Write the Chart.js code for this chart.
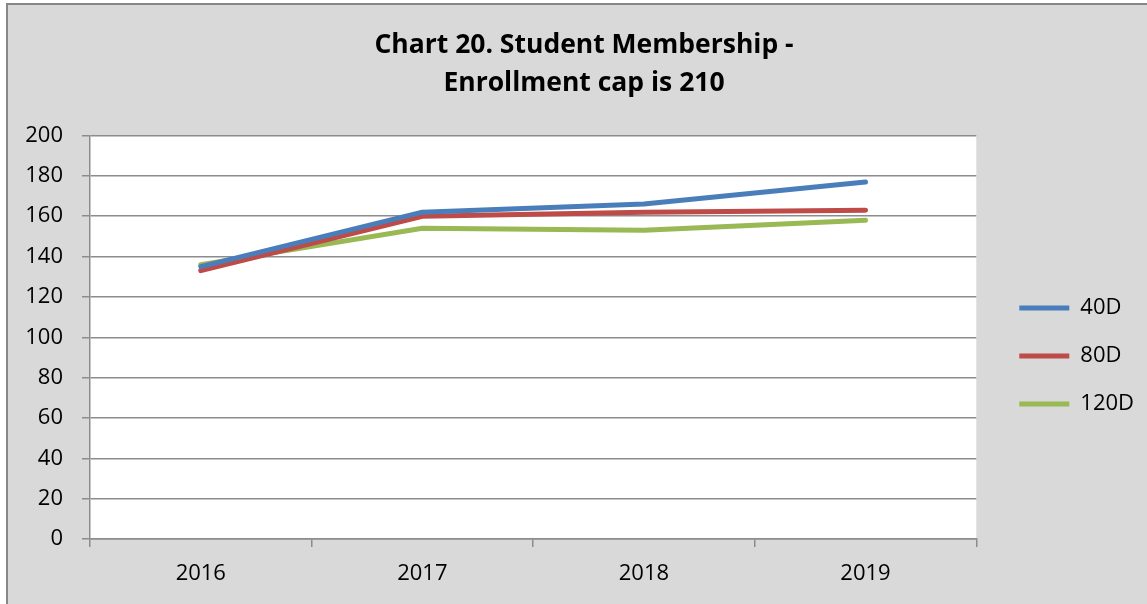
<!DOCTYPE html>
<html>
<head>
<meta charset="utf-8">
<script src="https://cdn.jsdelivr.net/npm/chart.js@4/dist/chart.umd.min.js"></script>
<style>
  body { margin: 0; background: #fff; }
  #wrap { position: relative; width: 1147px; height: 604px; }
</style>
</head>
<body>
<div id="wrap"><canvas id="chart"></canvas></div>
<script>
// Data
const years = ["2016", "2017", "2018", "2019"];
const d40 = [135, 162, 166, 177];
const d80 = [133, 160, 162, 163];
const d120 = [136, 154, 153, 158];
const yTicks = { min: 0, max: 200, step: 20 };

const gridColor = "#8c8c8c";
Chart.defaults.font.family = "'Open Sans', sans-serif";
Chart.defaults.color = "#000";

// gray chart box with border, white plot area
const background = {
  id: "background",
  beforeDraw(chart) {
    const { ctx, chartArea: a, width, height } = chart;
    ctx.save();
    ctx.fillStyle = "#fff";
    ctx.fillRect(0, 0, width, height);
    ctx.fillStyle = "#d9d9d9";
    ctx.fillRect(7, 4, width, height);
    ctx.strokeStyle = "#878787";
    ctx.lineWidth = 2;
    ctx.beginPath();
    ctx.moveTo(7, height);
    ctx.lineTo(7, 4);
    ctx.lineTo(width, 4);
    ctx.stroke();
    ctx.fillStyle = "#fff";
    ctx.fillRect(a.left, a.top, a.right - a.left, a.bottom - a.top);
    ctx.restore();
  }
};

function makeSet(label, data, color) {
  return {
    label: label,
    data: data,
    borderColor: color,
    backgroundColor: color,
    borderWidth: 5,
    borderCapStyle: "round",
    borderJoinStyle: "round",
    pointRadius: 0,
    tension: 0
  };
}

new Chart(document.getElementById("chart"), {
  type: "line",
  data: {
    labels: years,
    datasets: [
      makeSet("40D", d40, "#4a7ebb"),
      makeSet("80D", d80, "#be4b48"),
      makeSet("120D", d120, "#98b954")
    ]
  },
  options: {
    responsive: true,
    maintainAspectRatio: false,
    animation: false,
    layout: { padding: { left: 24, right: 3, top: 0, bottom: 0 } },
    plugins: {
      title: {
        display: true,
        text: ["Chart 20. Student Membership -", "Enrollment cap is 210"],
        font: { size: 26.5, weight: "bold", lineHeight: "38px" },
        padding: { top: 26, bottom: 33.5 }
      },
      legend: {
        position: "right",
        fullSize: false,
        title: { display: true, text: "", font: { size: 10, lineHeight: 1 }, padding: { top: 27.5, bottom: 0 } },
        labels: {
          usePointStyle: true,
          pointStyle: "line",
          pointStyleWidth: 50,
          padding: 26,
          font: { size: 22 }
        }
      },
      tooltip: { enabled: false }
    },
    scales: {
      x: {
        offset: true,
        grid: { offset: true, drawOnChartArea: false, tickLength: 8, color: gridColor, lineWidth: 1.5 },
        border: { color: gridColor, width: 1.5 },
        ticks: { font: { size: 22 }, padding: 14 },
        afterFit(s) { s.height = 65; }
      },
      y: {
        min: yTicks.min,
        max: yTicks.max,
        grid: { tickLength: 8, color: gridColor, lineWidth: 1.5 },
        border: { color: gridColor, width: 1.5 },
        ticks: { stepSize: yTicks.step, font: { size: 22 }, padding: 19 },
        afterFit(s) { s.width = 66; }
      },
      // spacer between plot and legend
      yr: {
        position: "right",
        grid: { display: false },
        border: { display: false },
        ticks: { display: false },
        afterFit(s) { s.width = 17; }
      }
    }
  },
  plugins: [background]
});
</script>
</body>
</html>
